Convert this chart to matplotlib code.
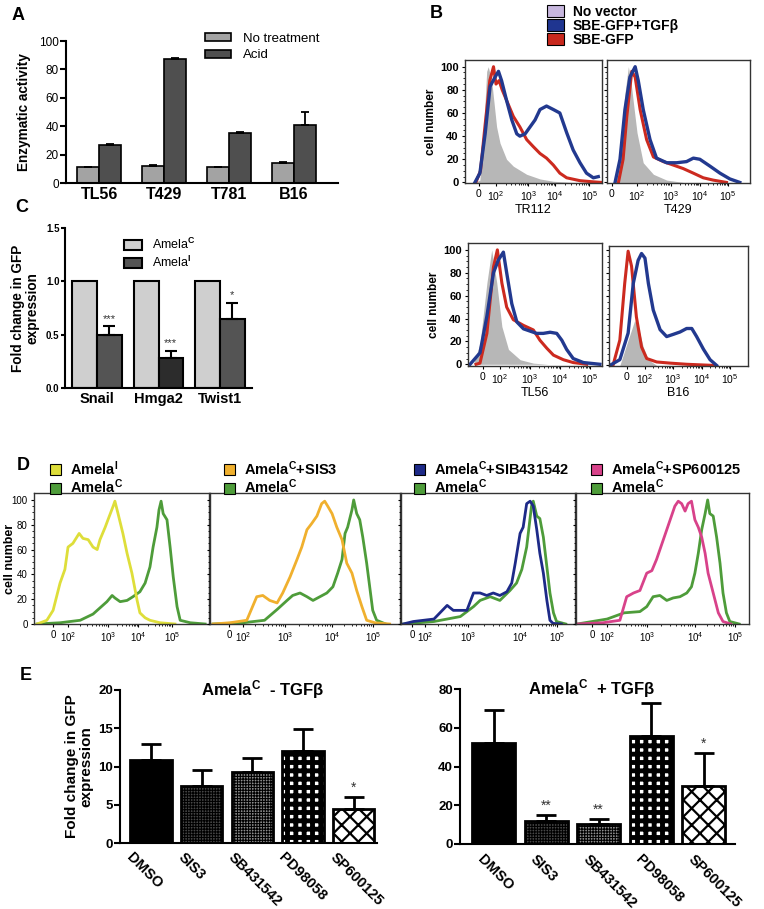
import matplotlib
matplotlib.use("Agg")
import matplotlib.pyplot as plt
from matplotlib.patches import Patch

plt.rcParams['font.family'] = ['Liberation Sans', 'DejaVu Sans']
plt.rcParams['mathtext.fontset'] = 'custom'
plt.rcParams['mathtext.rm'] = 'Liberation Sans'
plt.rcParams['mathtext.bf'] = 'Liberation Sans:bold'
plt.rcParams['mathtext.it'] = 'Liberation Sans:italic'
plt.rcParams['hatch.linewidth'] = 1.3

W, H = 764, 909

# ---------------- data ----------------
# A: enzymatic activity
a_lines = ['TL56', 'T429', 'T781', 'B16']
a_none = [11, 12, 11, 14]
a_none_err = [0.6, 1.0, 0.6, 0.8]
a_acid = [27, 87, 35, 41]
a_acid_err = [0.4, 1.2, 1.0, 9.0]

# C: fold change
c_genes = ['Snail', 'Hmga2', 'Twist1']
c_ctrl = [1.0, 1.0, 1.0]
c_inh = [0.50, 0.28, 0.65]
c_inh_err = [0.08, 0.07, 0.15]
c_stars = ['***', '***', '*']

# B: flow histograms (x in decade units, y = cell number)
tr112_grey_x = [1.30, 1.48, 1.60, 1.70, 1.75, 1.86, 2.02, 2.13, 2.34, 2.56, 2.99, 3.42, 3.85, 4.50]
tr112_grey_y = [0, 2, 45, 96, 100, 88, 48, 34, 20, 14, 7, 3, 1, 0]
tr112_red_x = [1.35, 1.50, 1.65, 1.80, 1.92, 2.00, 2.10, 2.20, 2.34, 2.56, 2.77, 2.99, 3.20, 3.42,
               3.63, 3.85, 4.06, 4.28, 4.71, 5.14, 5.40]
tr112_red_y = [0, 10, 50, 88, 100, 85, 88, 80, 71, 57, 48, 37, 31, 25, 21, 15, 8, 4, 1.5, 0.5, 0]
tr112_blue_x = [1.32, 1.48, 1.65, 1.81, 1.97, 2.08, 2.18, 2.34, 2.51, 2.67, 2.77, 2.94, 3.10, 3.26,
                3.42, 3.63, 3.85, 4.06, 4.28, 4.49, 4.71, 4.92, 5.14, 5.30]
tr112_blue_y = [0, 8, 42, 83, 91, 96, 88, 71, 54, 42, 40, 42, 48, 54, 63, 66, 63, 60, 43, 28, 17, 8, 4, 5]

t429_grey_x = [1.30, 1.45, 1.61, 1.72, 1.80, 1.90, 2.00, 2.20, 2.53, 2.96, 3.50]
t429_grey_y = [0, 28, 77, 100, 88, 65, 43, 17, 7, 2, 0]
t429_red_x = [1.40, 1.55, 1.67, 1.83, 1.94, 2.10, 2.31, 2.53, 2.85, 3.17, 3.49, 3.82, 4.14, 4.46, 4.89]
t429_red_y = [0, 20, 57, 96, 91, 63, 37, 22, 18, 15, 12, 8, 4, 2, 0]
t429_blue_x = [1.29, 1.45, 1.61, 1.77, 1.94, 2.04, 2.20, 2.42, 2.63, 2.96, 3.28, 3.60, 3.82, 4.03,
               4.36, 4.68, 5.00, 5.32]
t429_blue_y = [0, 20, 63, 91, 100, 88, 63, 37, 21, 17, 17, 18, 21, 20, 14, 8, 3, 0]

tl56_grey_x = [1.11, 1.33, 1.56, 1.72, 1.89, 2.06, 2.28, 2.67, 3.11, 3.60]
tl56_grey_y = [0, 18, 71, 100, 71, 33, 13, 4, 1, 0]
tl56_red_x = [1.20, 1.33, 1.56, 1.78, 1.91, 2.06, 2.22, 2.44, 2.78, 3.11, 3.33, 3.56, 3.78, 4.11, 4.44, 4.89]
tl56_red_y = [0, 1, 27, 85, 100, 71, 50, 39, 34, 30, 21, 14, 8, 4, 1.5, 0]
tl56_blue_x = [1.00, 1.33, 1.56, 1.78, 1.94, 2.11, 2.22, 2.39, 2.56, 2.78, 3.00, 3.22, 3.44, 3.67,
               3.89, 4.06, 4.22, 4.44, 4.78, 5.33]
tl56_blue_y = [0, 10, 42, 80, 91, 98, 80, 53, 37, 31, 29, 27, 27, 28, 27, 21, 13, 5, 1.5, 0]

b16_grey_x = [1.12, 1.41, 1.64, 1.82, 1.94, 2.12, 2.41]
b16_grey_y = [0, 22, 39, 28, 16, 5, 0]
b16_red_x = [0.88, 1.12, 1.29, 1.41, 1.53, 1.70, 1.88, 2.06, 2.41, 2.88, 3.46, 4.40]
b16_red_y = [0, 22, 71, 99, 86, 42, 16, 6, 3, 2, 1, 0]
b16_blue_x = [0.77, 1.12, 1.41, 1.59, 1.76, 1.88, 2.00, 2.12, 2.29, 2.53, 2.76, 3.00, 3.23, 3.46,
              3.64, 3.81, 4.05, 4.28, 4.51]
b16_blue_y = [0, 5, 28, 71, 91, 97, 93, 71, 48, 31, 25, 27, 29, 32, 32, 25, 14, 5, 0]

# D: flow histograms
d1_treat_x = [1.11, 1.39, 1.57, 1.77, 1.91, 2.00, 2.14, 2.32, 2.43, 2.58, 2.72, 2.84, 2.92, 3.07,
              3.15, 3.30, 3.35, 3.44, 3.58, 3.70, 3.84, 3.99, 4.07, 4.22, 4.36, 4.65, 5.08]
d1_treat_y = [0, 3, 11, 33, 44, 62, 65, 73, 69, 68, 62, 60, 68, 78, 84, 95, 99, 89, 73, 57, 41,
              19, 9, 5, 3, 1, 0]
d1_ctrl_x = [1.11, 1.77, 2.35, 2.72, 2.92, 3.12, 3.27, 3.35, 3.50, 3.70, 3.87, 4.07, 4.22, 4.36,
             4.45, 4.56, 4.62, 4.68, 4.74, 4.85, 4.94, 5.03, 5.14, 5.23, 5.52, 5.95]
d1_ctrl_y = [0, 1, 3, 8, 13, 18, 23, 21, 18, 19, 22, 26, 33, 46, 62, 78, 92, 99, 89, 84, 62, 38,
             14, 3, 1, 0]

d2_treat_x = [1.31, 1.70, 2.09, 2.32, 2.46, 2.62, 2.79, 2.92, 3.09, 3.25, 3.36, 3.48, 3.59, 3.71,
              3.82, 3.89, 3.96, 4.06, 4.17, 4.29, 4.40, 4.52, 4.63, 4.75, 4.86, 5.05, 5.39]
d2_treat_y = [0, 1, 3, 22, 23, 19, 17, 25, 38, 52, 62, 76, 81, 87, 97, 99, 95, 89, 78, 68, 49,
              41, 27, 14, 3, 1, 0]
d2_ctrl_x = [1.31, 2.00, 2.50, 2.80, 3.02, 3.15, 3.32, 3.48, 3.62, 3.78, 3.94, 4.08, 4.19, 4.29,
             4.36, 4.42, 4.52, 4.56, 4.63, 4.70, 4.77, 4.86, 4.93, 5.00, 5.09, 5.30]
d2_ctrl_y = [0, 1, 3, 12, 19, 23, 25, 22, 19, 22, 25, 30, 41, 52, 73, 78, 92, 100, 89, 84, 70,
             49, 30, 11, 3, 0]

d3_treat_x = [1.50, 1.73, 2.20, 2.50, 2.64, 2.95, 3.10, 3.25, 3.40, 3.55, 3.70, 3.86, 3.97, 4.05,
              4.16, 4.23, 4.31, 4.39, 4.46, 4.54, 4.61, 4.69, 4.77, 4.84, 4.91, 5.10]
d3_treat_y = [0, 2, 4, 15, 11, 11, 25, 25, 23, 25, 23, 26, 33, 49, 73, 78, 97, 99, 95, 76, 57,
              41, 19, 3, 0.5, 0]
d3_ctrl_x = [1.50, 2.20, 2.80, 3.10, 3.25, 3.48, 3.70, 3.93, 4.08, 4.20, 4.31, 4.42, 4.46, 4.54,
             4.61, 4.69, 4.77, 4.84, 4.92, 4.99, 5.20]
d3_ctrl_y = [0, 2, 6, 14, 19, 22, 19, 27, 33, 44, 62, 95, 99, 87, 85, 70, 46, 25, 9, 2, 0]

d4_treat_x = [1.30, 1.90, 2.30, 2.46, 2.62, 2.77, 2.93, 3.05, 3.16, 3.32, 3.40, 3.48, 3.59, 3.67,
              3.75, 3.83, 3.90, 3.98, 4.06, 4.14, 4.22, 4.30, 4.37, 4.49, 4.61, 4.72, 4.90]
d4_treat_y = [0, 1, 3, 22, 25, 27, 41, 43, 52, 68, 76, 84, 95, 99, 97, 91, 97, 99, 84, 78, 70,
              57, 41, 25, 9, 2, 0]
d4_ctrl_x = [1.30, 2.00, 2.40, 2.77, 2.93, 3.08, 3.24, 3.40, 3.55, 3.71, 3.87, 3.98, 4.06, 4.14,
             4.22, 4.30, 4.36, 4.41, 4.49, 4.57, 4.65, 4.72, 4.80, 4.88, 5.10]
d4_ctrl_y = [0, 4, 9, 10, 14, 22, 23, 19, 21, 22, 25, 30, 41, 57, 76, 89, 100, 89, 87, 70, 49,
             25, 9, 2, 0]

flow_ticklabels = ['0', r'$\mathregular{10^2}$', r'$\mathregular{10^3}$',
                   r'$\mathregular{10^4}$', r'$\mathregular{10^5}$']

# E: inhibitors
e_drugs = ['DMSO', 'SIS3', 'SB431542', 'PD98058', 'SP600125']
e_minus = [10.8, 7.5, 9.3, 12.0, 4.4]
e_minus_err = [2.2, 2.1, 1.8, 2.9, 1.6]
e_minus_stars = ['', '', '', '', '*']
e_plus = [52.0, 12.0, 10.3, 55.7, 30.1]
e_plus_err = [17.2, 3.0, 2.4, 17.2, 17.0]
e_plus_stars = ['', '**', '**', '', '*']

AC = r'Amela$^{\mathbf{C}}$'
AI = r'Amela$^{\mathbf{I}}$'


def px_box(x0, y0, x1, y1):
    return [x0 / W, 1 - y1 / H, (x1 - x0) / W, (y1 - y0) / H]


fig = plt.figure(figsize=(W / 100, H / 100), dpi=100)

for lab, x, y in [('A', 12, 15), ('B', 430, 13), ('C', 15, 208), ('D', 17, 465), ('E', 20, 676)]:
    fig.text(x / W, 1 - y / H, lab, fontsize=13, fontweight='bold', va='center', ha='left')

# ---------------- A ----------------
ax = fig.add_axes(px_box(66, 41, 338, 183))
xa = list(range(len(a_lines)))
bw = 0.34
ekw = dict(lw=1.3, capthick=1.3)
b1 = ax.bar([i - bw / 2 for i in xa], a_none, bw, color='#a3a3a3', edgecolor='black', lw=1.2,
            yerr=[[0] * 4, a_none_err], capsize=3, error_kw=ekw)
b2 = ax.bar([i + bw / 2 for i in xa], a_acid, bw, color='#4f4f4f', edgecolor='black', lw=1.2,
            yerr=[[0] * 4, a_acid_err], capsize=3, error_kw=ekw)
ax.set_xlim(-0.51, 3.68)
ax.set_ylim(0, 100)
ax.set_yticks([0, 20, 40, 60, 80, 100])
ax.set_xticks(xa)
ax.set_xticklabels(a_lines, fontweight='bold', fontsize=11.5)
ax.tick_params(axis='x', length=0, pad=3)
ax.tick_params(axis='y', length=4, width=1.5, labelsize=8.5, pad=1)
for s in ['top', 'right']:
    ax.spines[s].set_visible(False)
for s in ['left', 'bottom']:
    ax.spines[s].set_linewidth(1.5)
ax.set_ylabel('Enzymatic activity', fontweight='bold', fontsize=9.8)
ax.yaxis.set_label_coords((31 - 66) / 272, 0.5)
ax.legend([b1, b2], ['No treatment', 'Acid'], loc='upper left',
          bbox_to_anchor=(198 / W, 1 - 26 / H), bbox_transform=fig.transFigure,
          frameon=False, fontsize=9.5, handlelength=2.0, handleheight=0.55,
          labelspacing=0.35, borderpad=0, handletextpad=0.9)

# ---------------- C ----------------
ax = fig.add_axes(px_box(65, 228, 252, 388))
xc = list(range(len(c_genes)))
cw = 0.4
bc1 = ax.bar([i - cw / 2 for i in xc], c_ctrl, cw, color='#cfcfcf', edgecolor='black', lw=1.5)
bc2 = ax.bar([i + cw / 2 for i in xc], c_inh, cw, color=['#545454', '#2c2c2c', '#545454'],
             edgecolor='black', lw=1.5, yerr=[[0] * 3, c_inh_err], capsize=4,
             error_kw=dict(lw=1.5, capthick=1.5))
for i in xc:
    ax.text(i + cw / 2, c_inh[i] + c_inh_err[i] + 0.02, c_stars[i], ha='center', va='bottom',
            fontsize=8, color='#333333')
ax.set_xlim(-0.52, 2.52)
ax.set_ylim(0, 1.5)
ax.set_yticks([0, 0.5, 1.0, 1.5])
ax.set_yticklabels(['0.0', '0.5', '1.0', '1.5'], fontweight='bold', fontsize=7)
ax.set_xticks(xc)
ax.set_xticklabels(c_genes, fontweight='bold', fontsize=10.5)
ax.tick_params(axis='x', length=0, pad=3)
ax.tick_params(axis='y', length=3, width=1.5, pad=1)
for s in ['top', 'right']:
    ax.spines[s].set_visible(False)
for s in ['left', 'bottom']:
    ax.spines[s].set_linewidth(1.5)
ax.set_ylabel('Fold change in GFP\nexpression', fontweight='bold', fontsize=9.8, linespacing=1.0)
ax.yaxis.set_label_coords((39 - 65) / 187, 0.5)
ax.legend([bc1, bc2], [AC, AI], loc='upper left',
          bbox_to_anchor=(118 / W, 1 - 231 / H), bbox_transform=fig.transFigure,
          frameon=False, fontsize=9, handlelength=1.45, handleheight=0.9,
          labelspacing=0.2, borderpad=0, handletextpad=0.8)


# ---------------- flow helper ----------------
def flow_axes(box, xlim, ylim, ticks, ylabels, bold_y=True):
    ax = fig.add_axes(px_box(*box))
    ax.set_xlim(*xlim)
    ax.set_ylim(*ylim)
    ax.set_xticks(ticks)
    ax.set_xticklabels(flow_ticklabels, fontsize=7.5)
    minors = []
    for t0, t1 in zip(ticks[1:-1], ticks[2:]):
        minors += [t0 + (t1 - t0) * f for f in (0.30, 0.48, 0.60, 0.70, 0.78, 0.85, 0.90, 0.95)]
    ax.set_xticks(minors, minor=True)
    ax.set_yticks([0, 20, 40, 60, 80, 100])
    ax.set_yticks(list(range(0, 101, 5)), minor=True)
    ax.tick_params(axis='both', which='major', length=2.5, width=0.8, pad=2)
    ax.tick_params(axis='both', which='minor', length=1.5, width=0.6)
    if ylabels:
        ax.set_yticklabels(['0', '20', '40', '60', '80', '100'],
                           fontweight='bold' if bold_y else 'normal', fontsize=8 if bold_y else 7)
    else:
        ax.set_yticklabels([])
    for s in ax.spines.values():
        s.set_linewidth(1.0)
        s.set_color('#333333')
    return ax


RED, BLUE, GREY = '#cc2a1f', '#22398f', '#b7b7b7'

b_panels = [
    ((465, 60, 602, 183), (1.0, 5.42), (-0.5, 105.8), [1.45, 2.0, 3.04, 3.90, 5.01], True, 'TR112',
     tr112_grey_x, tr112_grey_y, tr112_red_x, tr112_red_y, tr112_blue_x, tr112_blue_y),
    ((607, 60, 750, 183), (1.03, 5.65), (-0.5, 105.8), [1.19, 2.0, 3.10, 4.03, 4.94], False, 'T429',
     t429_grey_x, t429_grey_y, t429_red_x, t429_red_y, t429_blue_x, t429_blue_y),
    ((468, 243, 602, 366), (0.93, 5.40), (-1.5, 106.0), [1.43, 2.0, 3.0, 4.0, 5.0], True, 'TL56',
     tl56_grey_x, tl56_grey_y, tl56_red_x, tl56_red_y, tl56_blue_x, tl56_blue_y),
    ((609, 246, 748, 366), (0.74, 5.61), (-0.5, 103.5), [1.37, 2.0, 2.98, 4.0, 4.98], False, 'B16',
     b16_grey_x, b16_grey_y, b16_red_x, b16_red_y, b16_blue_x, b16_blue_y),
]
for box, xl, yl, tk, lab, name, gx, gy, rx, ry, ux, uy in b_panels:
    ax = flow_axes(box, xl, yl, tk, lab)
    ax.fill_between(gx, gy, color=GREY, lw=0)
    ax.plot(rx, ry, color=RED, lw=2.2)
    ax.plot(ux, uy, color=BLUE, lw=2.4)
    ax.set_xlabel(name, fontsize=9, labelpad=1)
    if lab:
        ax.set_ylabel('cell number', fontweight='bold', fontsize=8.5, labelpad=2)

fig.legend([Patch(fc='#c7b7de', ec='black', lw=0.8), Patch(fc='#1f3590', ec='black', lw=0.8),
            Patch(fc='#c8281d', ec='black', lw=0.8)],
           ['No vector', 'SBE-GFP+TGFβ', 'SBE-GFP'], loc='upper left',
           bbox_to_anchor=(540 / W, 1 + 2 / H), frameon=False,
           prop=dict(size=10, weight='bold'), handlelength=1.25, handleheight=1.0,
           labelspacing=0.0, borderpad=0, handletextpad=0.6)

# ---------------- D ----------------
d_panels = [
    ((34, 493, 209, 624), (1.02, 6.06), [1.57, 2.0, 3.15, 4.02, 5.0],
     d1_treat_x, d1_treat_y, '#dede3a', AI, (43, 452)),
    ((210, 493, 400, 624), (1.24, 5.63), [1.68, 2.0, 2.97, 4.06, 5.0],
     d2_treat_x, d2_treat_y, '#f0b02e', AC + '+SIS3', (217, 452)),
    ((401, 493, 575, 624), (1.45, 5.41), [1.70, 2.0, 2.98, 4.16, 5.0],
     d3_treat_x, d3_treat_y, '#1d2a88', AC + '+SIB431542', (407, 452)),
    ((576, 493, 749, 624), (1.27, 5.33), [1.65, 2.0, 2.94, 4.06, 5.0],
     d4_treat_x, d4_treat_y, '#d8428a', AC + '+SP600125', (584, 452)),
]
d_ctrl = [(d1_ctrl_x, d1_ctrl_y), (d2_ctrl_x, d2_ctrl_y), (d3_ctrl_x, d3_ctrl_y),
          (d4_ctrl_x, d4_ctrl_y)]
GREEN = '#4e9c3a'
for k, (box, xl, tk, tx, ty, col, name, lpos) in enumerate(d_panels):
    ax = flow_axes(box, xl, (0, 105.6), tk, k == 0, bold_y=False)
    ax.set_xticklabels(flow_ticklabels, fontsize=7)
    cx, cy = d_ctrl[k]
    ax.plot(cx, cy, color=GREEN, lw=2.0)
    ax.plot(tx, ty, color=col, lw=2.0)
    if k == 0:
        ax.set_ylabel('cell number', fontweight='bold', fontsize=9)
        ax.yaxis.set_label_coords((16 - 34) / 175, 0.5)
    fig.legend([Patch(fc=col, ec='black', lw=0.8), Patch(fc=GREEN, ec='black', lw=0.8)],
               [name, AC], loc='upper left', bbox_to_anchor=(lpos[0] / W, 1 - lpos[1] / H),
               frameon=False, prop=dict(size=10.5, weight='bold'), handlelength=0.75,
               handleheight=0.75, labelspacing=0.0, borderpad=0, handletextpad=0.6)

# ---------------- E ----------------
e_face = ['black', '#474747', '#8e8e8e', 'white', 'white']
e_hatch = [None, '++++++', '++++++', '++', 'xx']
e_hatch_lw = [1, 0.8, 0.8, 3.5, 1.6]


def inhib_axes(box, vals, errs, stars, ylim, yticks, xlim, title, tx, lab_dx):
    ax = fig.add_axes(px_box(*box))
    xs = list(range(len(e_drugs)))
    bars = ax.bar(xs, vals, 0.82, color=e_face, edgecolor='black', lw=2.0,
                  yerr=[[0] * len(xs), errs], capsize=7, error_kw=dict(lw=2.0, capthick=2.0))
    for b, h, hl in zip(bars, e_hatch, e_hatch_lw):
        if h:
            b.set_hatch(h)
            if hasattr(b, 'set_hatch_linewidth'):
                b.set_hatch_linewidth(hl)
    for i in xs:
        if stars[i]:
            ax.text(i, vals[i] + errs[i] + ylim[1] * 0.015, stars[i], ha='center', va='bottom',
                    fontsize=10, color='#333333')
    ax.set_xlim(*xlim)
    ax.set_ylim(*ylim)
    ax.set_yticks(yticks)
    ax.set_xticks(xs)
    ax.set_xticklabels([])
    ax.tick_params(axis='x', length=0)
    ax.tick_params(axis='y', length=4, width=1.5, labelsize=9.5, pad=1)
    for t in ax.get_yticklabels():
        t.set_fontweight('bold')
    for s in ['top', 'right']:
        ax.spines[s].set_visible(False)
    for s in ['left', 'bottom']:
        ax.spines[s].set_linewidth(1.5)
    for i, name in enumerate(e_drugs):
        ax.text(i + lab_dx, -0.05, name, transform=ax.get_xaxis_transform(), rotation=-45,
                rotation_mode='anchor', ha='left', va='top', fontsize=10.5, fontweight='bold')
    ax.text(tx, 1.0, title, transform=ax.transAxes, ha='center', va='center',
            fontsize=12, fontweight='bold')
    return ax


ax = inhib_axes((120, 690, 377, 843), e_minus, e_minus_err, e_minus_stars, (0, 20),
                [0, 5, 10, 15, 20], (-0.61, 4.46), AC + '  - TGFβ', 0.556, -0.33)
ax.set_ylabel('Fold change in GFP\nexpression', fontweight='bold', fontsize=11, linespacing=1.0)
ax.yaxis.set_label_coords((93 - 120) / 257, 0.5)
inhib_axes((460, 689, 735, 844), e_plus, e_plus_err, e_plus_stars, (0, 80),
           [0, 20, 40, 60, 80], (-0.64, 4.6), AC + '  + TGFβ', 0.48, -0.16)

fig.savefig('out.png', dpi=100)
